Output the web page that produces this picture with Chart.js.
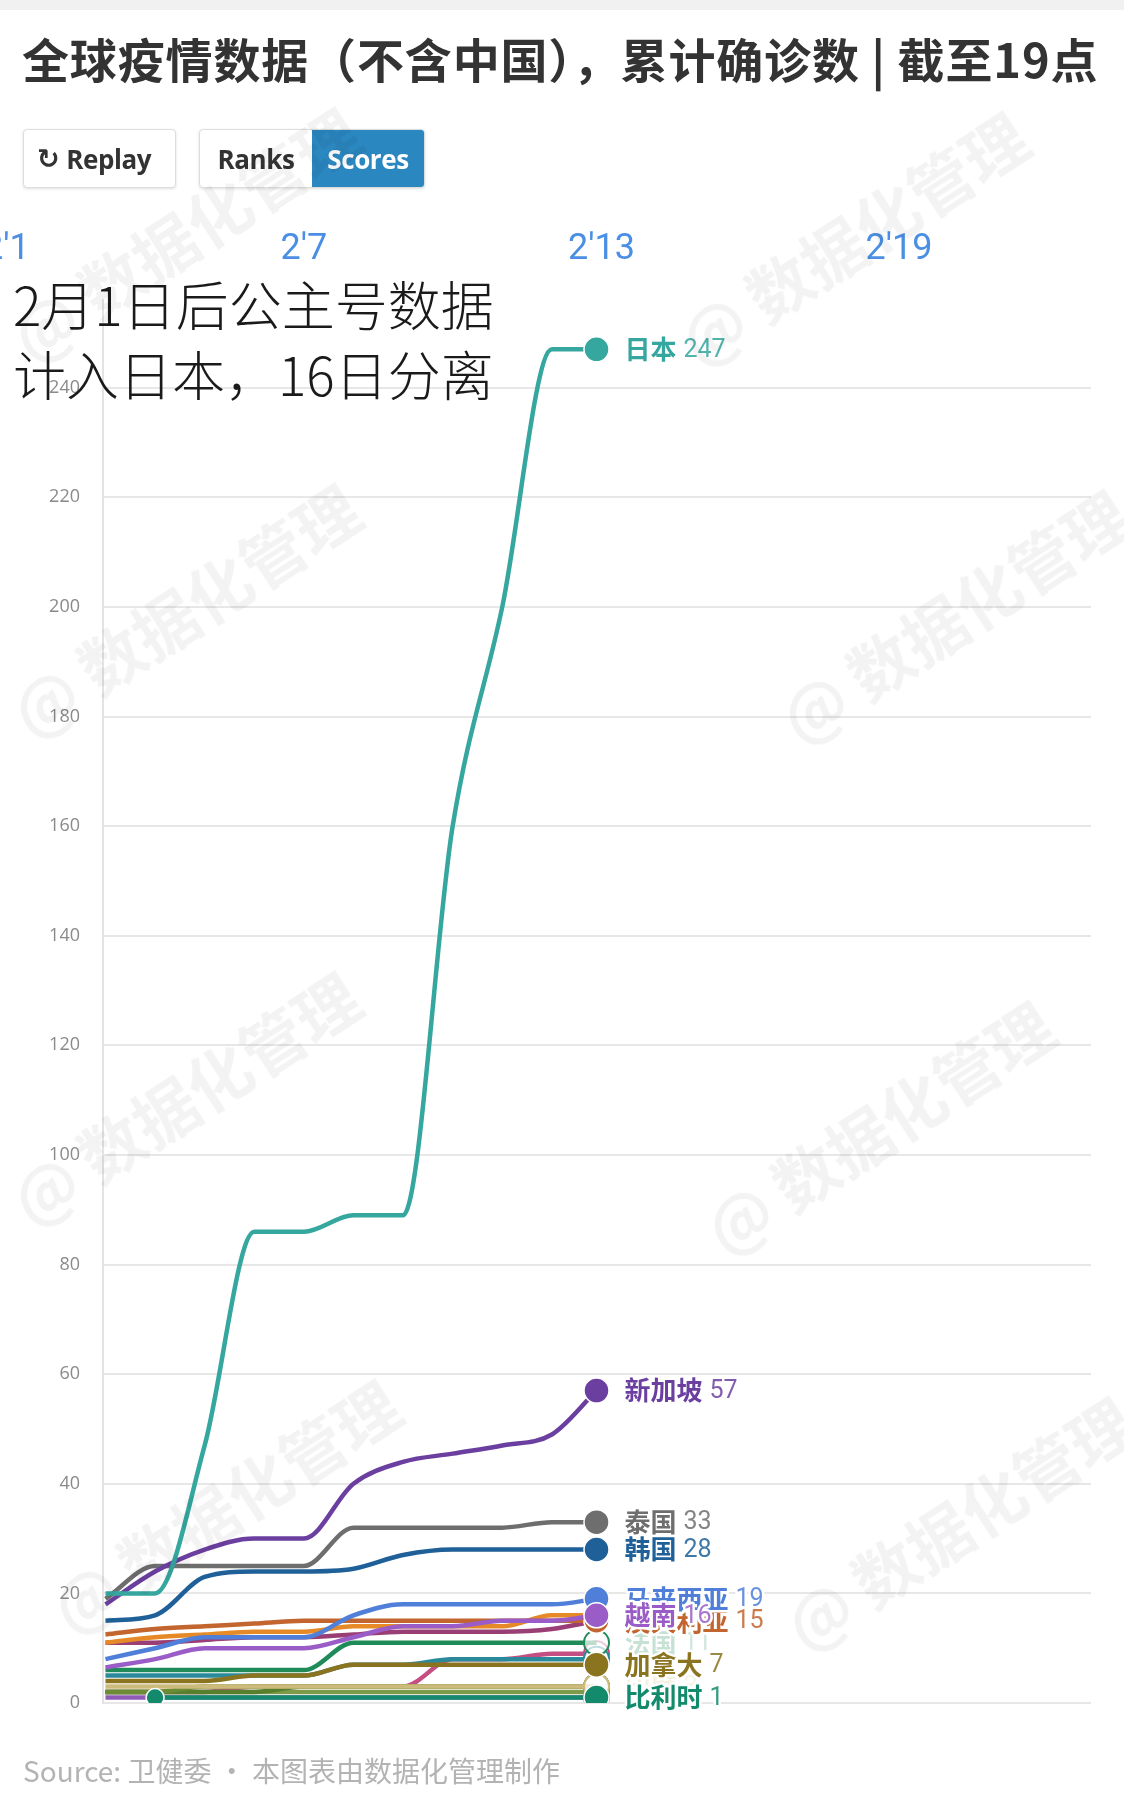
<!DOCTYPE html>
<html>
<head>
<meta charset="utf-8">
<script src="https://cdn.jsdelivr.net/npm/chart.js@4.4.1/dist/chart.umd.min.js"></script>
<style>
  html, body { margin: 0; padding: 0; background: #fff; }
  #wrap { position: relative; width: 1124px; height: 1800px; overflow: hidden; background: #fff;
          font-family: "Noto Sans CJK SC", "Noto Sans", sans-serif; }
  #topband { position: absolute; left: 0; top: 0; width: 1124px; height: 10px; background: #f1f1f1; }
  #chart { position: absolute; left: 0; top: 0; }
  #title { position: absolute; left: 22px; top: 28px; font-size: 47px; font-weight: 700; color: #333;
           line-height: 60px; white-space: nowrap; letter-spacing: 0.85px; }
  .btn { position: absolute; top: 129px; height: 59px; box-sizing: border-box; border: 1px solid #ddd;
         border-radius: 4px; background: #fff; box-shadow: 0 1px 3px rgba(0,0,0,0.13);
         font-family: "Open Sans", sans-serif; font-weight: 700; font-size: 26px; color: #333;
         display: flex; align-items: center; overflow: hidden; letter-spacing: -0.4px; }
  #replay { left: 23px; width: 153px; padding-left: 13px; }
  #replay .ic { font-family: "DejaVu Sans", sans-serif; font-size: 27px; margin-right: 7px; font-weight: 700; }
  #mode { left: 199px; width: 226px; }
  #mode .seg { height: 100%; display: flex; align-items: center; justify-content: center; }
  #ranks { width: 112px; }
  #scores { flex: 1; background: #2b87bf; color: #fff; }
  #note { position: absolute; left: 13px; top: 268px; font-size: 53px; font-weight: 300; color: #1a1a1a;
          line-height: 70px; white-space: nowrap; }
  #source { position: absolute; left: 23px; top: 1750px; font-size: 28px; color: #b3b3b3; white-space: nowrap; }
  .wm { position: absolute; font-size: 64px; font-weight: 700; color: rgba(0,0,0,0.047); white-space: nowrap;
        transform: translate(-50%, -50%) rotate(-33deg); pointer-events: none; }
</style>
</head>
<body>
<div id="wrap">
  <div id="topband"></div>
  <canvas id="chart" width="1124" height="1800"></canvas>
  <div id="title">全球疫情数据（不含中国），累计确诊数 | 截至19点</div>
  <div class="btn" id="replay"><span class="ic">↻</span>Replay</div>
  <div class="btn" id="mode"><div class="seg" id="ranks">Ranks</div><div class="seg" id="scores">Scores</div></div>
  <div id="note">2月1日后公主号数据<br>计入日本，16日分离</div>
  <div id="source">Source: 卫健委 • 本图表由数据化管理制作</div>
  <div class="wm" style="left:184px;top:232px">@ 数据化管理</div>
  <div class="wm" style="left:852px;top:236px">@ 数据化管理</div>
  <div class="wm" style="left:184px;top:608px">@ 数据化管理</div>
  <div class="wm" style="left:953px;top:614px">@ 数据化管理</div>
  <div class="wm" style="left:184px;top:1096px">@ 数据化管理</div>
  <div class="wm" style="left:878px;top:1125px">@ 数据化管理</div>
  <div class="wm" style="left:224px;top:1504px">@ 数据化管理</div>
  <div class="wm" style="left:958px;top:1521px">@ 数据化管理</div>
</div>
<script>
// ---------- data ----------
// February day of each sample (the last one is the current playhead of the race, 13 Feb ~19:00)
const days = [3, 4, 5, 6, 7, 8, 9, 10, 11, 12, 12.9];

const japan       = [20, 20, 47, 86, 86, 89, 89, 160, 200, 247, 247];
const singapore   = [18, 24, 28, 30, 30, 40, 44, 45.5, 47, 49, 57];
const thailand    = [19, 25, 25, 25, 25, 32, 32, 32, 32, 33, 33];
const korea       = [15, 16, 23, 24, 24, 24.5, 27, 28, 28, 28, 28];
const belgium     = [null, 1, 1, 1, 1, 1, 1, 1, 1, 1, 1];
const canada      = [4, 4, 4, 5, 5, 7, 7, 7, 7, 7, 7];
const vietnam     = [6.5, 8, 10, 10, 10, 12, 14, 14, 15, 15, 16];
const malaysia    = [8, 10, 12, 12, 12, 16, 18, 18, 18, 18, 19];
const australia   = [12.5, 13.5, 14, 14.5, 15, 15, 15, 15, 15, 15, 15];
const germany     = [11, 12, 12.5, 13, 13, 14, 14, 14, 14, 16, 16];
const usa         = [11, 11, 11.5, 12, 12, 12.5, 13, 13, 13, 13.5, 15];
const france      = [6, 6, 6, 6, 6, 11, 11, 11, 11, 11, 11];
const uae         = [5, 5, 5, 5, 5, 7, 7, 8, 8, 8, 8];
const india       = [3, 3, 3, 3, 3, 3, 3, 3, 3, 3, 3];
const philippines = [2, 2, 3, 3, 3, 3, 3, 3, 3, 3, 3];
const italy       = [2, 2, 2, 2, 3, 3, 3, 3, 3, 3, 3];
const russia      = [2, 2, 2, 2, 2, 2, 2, 2, 2, 2, 2];
const cambodia    = [1, 1, 1, 1, 1, 1, 1, 1, 1, 1, 1];
const uk          = [2, 2, 2, 3, 3, 3, 3, 8, 8, 9, 9];

const countryNames = ['日本', '新加坡', '泰国', '韩国', '比利时', '加拿大', '越南', '马来西亚', '澳大利亚',
                      '德国', '美国', '法国', '阿联酋', '印度', '菲律宾', '意大利', '俄罗斯', '柬埔寨', '英国'];
const countryValues = [japan, singapore, thailand, korea, belgium, canada, vietnam, malaysia, australia,
                       germany, usa, france, uae, india, philippines, italy, russia, cambodia, uk];

const xTickDays   = [1, 7, 13, 19];
const xTickLabels = ["2'1", "2'7", "2'13", "2'19"];
const yTickValues = [0, 20, 40, 60, 80, 100, 120, 140, 160, 180, 200, 220, 240];

// ---------- styles (kept apart from the data) ----------
const styleOf = {
  '日本':   { color: '#35a79f', label: 1, dot: 1 },
  '新加坡': { color: '#6b3fa0', label: 1, dot: 1 },
  '泰国':   { color: '#6e6e6e', label: 1, dot: 1 },
  '韩国':   { color: '#1f6098', label: 1, dot: 1 },
  '比利时': { color: '#138a6c', label: 1, dot: 1 },
  '加拿大': { color: '#8b7420', label: 1, dot: 1 },
  '越南':   { color: '#9a5dc8', label: 1, dot: 1 },
  '马来西亚': { color: '#4f7fd8', label: 1, dot: 1 },
  '澳大利亚': { color: '#c2652f', label: 1, dot: 1 },
  '德国':   { color: '#e68a27', label: 0, dot: 1 },
  '美国':   { color: '#9a3f75', label: 0, dot: 1 },
  '法国':   { color: '#1f8b58', label: 0.25, dot: 0 },
  '英国':   { color: '#c44f82', label: 0, dot: 0 },
  '阿联酋': { color: '#2a8a9c', label: 0, dot: 0 },
  '印度':   { color: '#cdbb7c', label: 0.22, dot: 0 },
  '菲律宾': { color: '#6b8c35', label: 0, dot: 0 },
  '意大利': { color: '#587f2c', label: 0, dot: 0 },
  '俄罗斯': { color: '#7d9a48', label: 0, dot: 0 },
  '柬埔寨': { color: '#8e5cb8', label: 0, dot: 0 }
};
// labels drawn later sit on top
const labelOrder = ['法国', '印度', '澳大利亚', '马来西亚', '越南', '比利时', '加拿大', '韩国', '泰国', '新加坡', '日本'];

function firstIndex(arr) { return arr.findIndex(v => v !== null && v !== undefined); }

const datasets = countryNames.map((name, k) => {
  const vals = countryValues[k];
  const st = styleOf[name];
  const last = vals.length - 1;
  const first = firstIndex(vals);
  return {
    label: name,
    data: days.map((d, i) => ({ x: d, y: vals[i] })),
    borderColor: st.color,
    borderWidth: 4.5,
    cubicInterpolationMode: 'monotone',
    fill: false,
    pointRadius: ctx => ctx.dataIndex === last ? 12.5 : (ctx.dataIndex === first && first > 0 ? 9 : 0),
    pointBackgroundColor: ctx => (ctx.dataIndex === last && !st.dot) ? 'rgba(255,255,255,0.7)' : st.color,
    pointBorderColor: ctx => (ctx.dataIndex === last && !st.dot) ? st.color : '#ffffff',
    pointBorderWidth: ctx => (ctx.dataIndex === last && !st.dot) ? 2 : 1.5
  };
});

// end-of-line labels, positioned from the drawn points
const endLabels = {
  id: 'endLabels',
  afterDatasetsDraw(chart) {
    const ctx = chart.ctx;
    ctx.save();
    labelOrder.forEach(name => {
      const k = countryNames.indexOf(name);
      const st = styleOf[name];
      if (!st.label) return;
      const vals = countryValues[k];
      const meta = chart.getDatasetMeta(k);
      const pt = meta.data[vals.length - 1];
      const x = pt.x + 28, y = pt.y;
      ctx.globalAlpha = st.label;
      ctx.textBaseline = 'middle';
      ctx.textAlign = 'left';
      ctx.lineJoin = 'round';
      ctx.font = '600 26px "Noto Sans CJK SC", sans-serif';
      ctx.strokeStyle = '#ffffff';
      ctx.lineWidth = 5;
      ctx.strokeText(name, x, y);
      ctx.fillStyle = st.color;
      ctx.fillText(name, x, y);
      const w = ctx.measureText(name).width;
      const valText = String(Math.round(vals[vals.length - 1]));
      ctx.font = '400 25px Roboto, sans-serif';
      ctx.strokeText(valText, x + w + 7, y + 1);
      ctx.globalAlpha = st.label * 0.85;
      ctx.fillText(valText, x + w + 7, y + 1);
    });
    ctx.restore();
  }
};

// the first date label ("2'1") lies left of the plot and is cut by the page edge
const leadingTick = {
  id: 'leadingTick',
  afterDraw(chart) {
    const xs = chart.scales.x;
    const o = xs.options.ticks;
    const v = xTickDays[0];
    if (v >= xs.min) return;
    const ctx = chart.ctx;
    ctx.save();
    ctx.font = `${o.font.weight || 400} ${o.font.size}px ${o.font.family}`;
    ctx.fillStyle = o.color;
    ctx.textAlign = 'center';
    ctx.textBaseline = 'middle';
    ctx.fillText(xTickLabels[0], xs.getPixelForValue(v), xs.bottom - o.padding - o.font.size * 1.2 / 2);
    ctx.restore();
  }
};

new Chart(document.getElementById('chart'), {
  type: 'line',
  data: { datasets },
  options: {
    responsive: false,
    animation: false,
    events: [],
    layout: { padding: { top: 200, left: 0, right: 33, bottom: 97 } },
    plugins: { legend: { display: false }, tooltip: { enabled: false } },
    scales: {
      x: {
        type: 'linear',
        position: 'top',
        min: 2.95,
        max: 22.87,
        bounds: 'data',
        grid: { display: false, drawTicks: false },
        border: { display: false },
        afterBuildTicks: s => { s.ticks = xTickDays.filter(v => v >= s.min && v <= s.max).map(v => ({ value: v })); },
        ticks: {
          autoSkip: false,
          maxRotation: 0,
          padding: 28.4,
          color: '#4a8fe3',
          font: { family: 'Roboto', size: 36, weight: 400 },
          callback: v => xTickLabels[xTickDays.indexOf(v)]
        }
      },
      y: {
        type: 'linear',
        min: 0,
        max: 256,
        afterFit: s => { s.width = 103; },
        afterBuildTicks: s => { s.ticks = yTickValues.map(v => ({ value: v })); },
        grid: { color: '#e7e7e7', lineWidth: 2, drawTicks: false },
        border: { display: true, color: '#e3e3e3', width: 2 },
        ticks: {
          padding: 23,
          color: '#8a8a8a',
          font: { family: '"Open Sans"', size: 18 },
          callback: v => String(v)
        }
      }
    }
  },
  plugins: [endLabels, leadingTick]
});
</script>
</body>
</html>
